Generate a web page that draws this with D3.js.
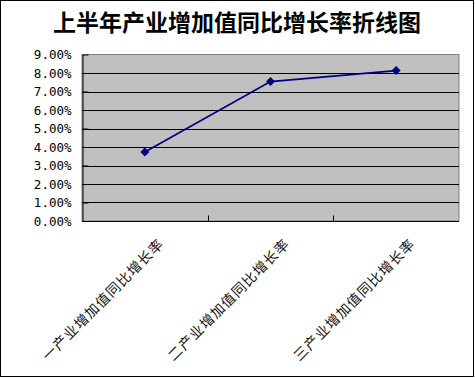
<!DOCTYPE html>
<html>
<head>
<meta charset="utf-8">
<script src="https://cdn.jsdelivr.net/npm/d3@7"></script>
<style>
  body { margin: 0; background: #fff; }
  svg { display: block; }
</style>
</head>
<body>
<svg width="475" height="378"></svg>
<script>
var title = "上半年产业增加值同比增长率折线图";
var categories = ["一产业增加值同比增长率", "二产业增加值同比增长率", "三产业增加值同比增长率"];
var rates = [3.73, 7.54, 8.13];
var yTicks = [0, 1, 2, 3, 4, 5, 6, 7, 8, 9];

var svg = d3.select("svg");
var plot = { left: 82, top: 54.5, right: 459, bottom: 221 };

// outer frame
svg.append("rect")
    .attr("x", 0.5).attr("y", 0.5)
    .attr("width", 473).attr("height", 376)
    .attr("fill", "#fff")
    .attr("stroke", "#000");

svg.append("text")
    .attr("x", 237).attr("y", 31)
    .attr("text-anchor", "middle")
    .style("font-family", "'Noto Sans CJK SC'")
    .style("font-weight", "bold")
    .style("font-size", "23px")
    .text(title);

var x = d3.scaleBand().domain(categories).range([plot.left, plot.right]);
var y = d3.scaleLinear().domain([0, 9]).range([plot.bottom, plot.top]);

// plot background + gray border
svg.append("rect")
    .attr("x", plot.left).attr("y", plot.top)
    .attr("width", plot.right - plot.left).attr("height", plot.bottom - plot.top)
    .attr("fill", "#c0c0c0")
    .attr("stroke", "#808080");

// gridlines
svg.append("g")
    .selectAll("line")
    .data(yTicks.filter(function(d) { return d > 0 && d < 9; }))
    .enter().append("line")
    .attr("x1", plot.left).attr("x2", plot.right)
    .attr("y1", function(d) { return Math.round(y(d)) + 0.5; })
    .attr("y2", function(d) { return Math.round(y(d)) + 0.5; })
    .attr("stroke", "#000");

// y axis
var yAxis = svg.append("g")
    .attr("transform", "translate(" + (plot.left + 0.5) + ",0)")
    .call(d3.axisLeft(y).tickValues(yTicks).tickSizeInner(-6).tickSizeOuter(0).tickPadding(11)
        .tickFormat(function(d) { return d.toFixed(2) + "%"; }));
yAxis.select(".domain").attr("stroke", "#000");
yAxis.selectAll(".tick line").attr("stroke", "#000");
yAxis.selectAll(".tick text")
    .attr("fill", "#000")
    .style("font-family", "'DejaVu Sans Mono'")
    .style("font-size", "12.5px");

// x axis
var xAxis = svg.append("g")
    .attr("transform", "translate(0," + (plot.bottom + 0.5) + ")");
xAxis.append("line")
    .attr("x1", plot.left).attr("x2", plot.right)
    .attr("stroke", "#000");
xAxis.selectAll(".xtick")
    .data(categories.slice(1))
    .enter().append("line")
    .attr("class", "xtick")
    .attr("x1", function(d) { return Math.round(x(d)) + 0.5; })
    .attr("x2", function(d) { return Math.round(x(d)) + 0.5; })
    .attr("y1", 0).attr("y2", -6)
    .attr("stroke", "#000");

svg.append("g")
    .selectAll("text")
    .data(categories)
    .enter().append("text")
    .attr("text-anchor", "end")
    .attr("transform", function(d) {
        var cx = x(d) + x.bandwidth() / 2 + 20;
        return "translate(" + cx + ",245) rotate(-45)";
    })
    .style("font-family", "'Noto Sans CJK SC'")
    .style("font-size", "14px")
    .style("letter-spacing", "1px")
    .attr("fill", "#111")
    .text(function(d) { return d; });

// line + markers
var line = d3.line()
    .x(function(d, i) { return x(categories[i]) + x.bandwidth() / 2; })
    .y(function(d) { return y(d); });

svg.append("path")
    .datum(rates)
    .attr("d", line)
    .attr("fill", "none")
    .attr("stroke", "#000080")
    .attr("stroke-width", 1.8);

// square diamonds (square turned 45deg)
svg.append("g")
    .selectAll("path")
    .data(rates)
    .enter().append("path")
    .attr("d", d3.symbol().type(d3.symbolSquare).size(40))
    .attr("transform", function(d, i) {
        return "translate(" + (x(categories[i]) + x.bandwidth() / 2) + "," + y(d) + ") rotate(45)";
    })
    .attr("fill", "#000080");
</script>
</body>
</html>
